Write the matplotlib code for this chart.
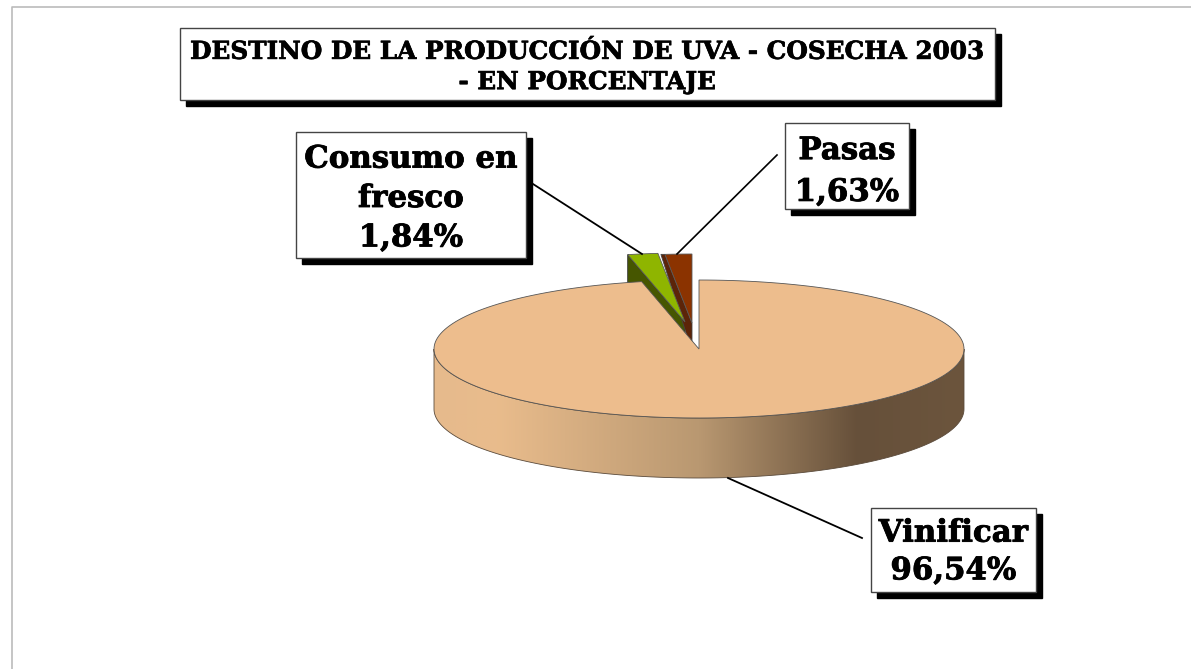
import numpy as np
import matplotlib
matplotlib.use("Agg")
import matplotlib.pyplot as plt
import matplotlib.patheffects as pe
from matplotlib.colors import LinearSegmentedColormap
from matplotlib.patches import Polygon, Rectangle

title = "DESTINO DE LA PRODUCCIÓN DE UVA - COSECHA 2003\n- EN PORCENTAJE"
categories = ["Vinificar", "Consumo en\nfresco", "Pasas"]
values = [96.54, 1.84, 1.63]

# pie geometry, in pixels of the picture
CX, CY = 699, 349
RX, RY = 265, 69
DEPTH = 60
FONT = "DejaVu Serif"


def rim(a0, a1, n=200):
    # angles are degrees clockwise from 12 o'clock
    t = np.radians(np.linspace(a0, a1, n))
    return np.column_stack([CX + RX * np.sin(t), CY - RY * np.cos(t)])


def wedge(a0, a1, dx=0, dy=0):
    pts = np.vstack([[CX, CY], rim(a0, a1)])
    return pts + [dx, dy]


def box(x0, y0, x1, y1, text, size, ls, dy=0, shadow=6, stroke=0.6):
    ax.add_patch(Rectangle((x0 + shadow, y0 + shadow), x1 - x0, y1 - y0, fc="black", ec="black", zorder=6))
    ax.add_patch(Rectangle((x0, y0), x1 - x0, y1 - y0, fc="white", ec="#444444", lw=1.0, zorder=7))
    t = ax.text((x0 + x1) / 2, (y0 + y1) / 2 + dy, text, ha="center", va="center", ma="center",
                fontsize=size, family=FONT, weight="bold", linespacing=ls, color="black", zorder=8)
    # the original face is heavier than DejaVu Serif Bold
    t.set_path_effects([pe.withStroke(linewidth=stroke, foreground="black")])


fig = plt.figure(figsize=(11.91, 6.69), dpi=100)
ax = fig.add_axes([0, 0, 1, 1])

# frame of the slide
ax.plot([11.5, 11.5, 1191], [669, 6.5, 6.5], color="#bbbbbb", lw=1.2, zorder=1)

total = sum(values)
sweep = [v / total * 360 for v in values]
a_main = sweep[0]
a_cons = a_main + sweep[1]

# side of the big slice, shaded left to right
front = rim(90, 270)
side = np.vstack([front, (front + [0, DEPTH])[::-1]])
cmap = LinearSegmentedColormap.from_list(
    "side", [(0, "#e6ba8c"), (0.12, "#e9bc8c"), (0.5, "#b99871"), (0.8, "#66503a"), (1, "#6c553d")])
grad = ax.imshow(np.linspace(0, 1, 256)[None, :], cmap=cmap, aspect="auto", zorder=2,
                 extent=(CX - RX, CX + RX, CY + RY + DEPTH + 2, CY - 2))
side_patch = Polygon(side, closed=True, fc="none", ec="#5a4a3a", lw=0.6, zorder=3)
ax.add_patch(side_patch)
grad.set_clip_path(side_patch)

ax.set_xlim(0, 1191)
ax.set_ylim(669, 0)
ax.axis("off")

# exploded slices: dark cut faces first, the big top hides what it must
cons_dx, cons_dy = -14, -27
pas_dx, pas_dy = -7, -26
cons_top = wedge(a_main, a_cons, cons_dx, cons_dy)
pas_top = wedge(a_cons, 360, pas_dx, pas_dy)

apex, corner = cons_top[0], cons_top[1]
ax.add_patch(Polygon([corner, apex, apex + [0, DEPTH], corner + [0, DEPTH]], fc="#465600", ec="#333333", lw=0.6, zorder=3))
apex, corner = pas_top[0], pas_top[1]
ax.add_patch(Polygon([corner + [-4, 0], corner, apex, apex + [0, 22], apex + [-4, 16]], fc="#5c2408", ec="#444444", lw=0.6, zorder=3))

# top of the big slice
ax.add_patch(Polygon(wedge(0, a_main), closed=True, fc="#edbd8d", ec="#555555", lw=0.6, zorder=4))

ax.add_patch(Polygon(cons_top, closed=True, fc="#8fb500", ec="#5a5a5a", lw=0.6, zorder=5))
ax.add_patch(Polygon(pas_top, closed=True, fc="#8b3300", ec="#5a5a5a", lw=0.6, zorder=5))

# leader lines
ax.plot([533, 642], [184, 254], color="black", lw=1.3, zorder=5.5)
ax.plot([777, 677], [155, 254], color="black", lw=1.2, zorder=5.5)
ax.plot([728, 862], [478, 538], color="black", lw=1.3, zorder=5.5)

pct = [f"{v:.2f}".replace(".", ",") + "%" for v in values]
box(180, 28, 995, 100, title, 17.8, 1.33, dy=3, stroke=0.5)
box(296, 132, 526, 258, f"{categories[1]}\n{pct[1]}", 22.2, 1.35, dy=3.5)
box(785, 123, 909, 209, f"{categories[2]}\n{pct[2]}", 22.2, 1.45, dy=5.5)
box(871, 508, 1036, 592, f"{categories[0]}\n{pct[0]}", 22.2, 1.28, dy=2)

fig.savefig("out.png", dpi=100)
